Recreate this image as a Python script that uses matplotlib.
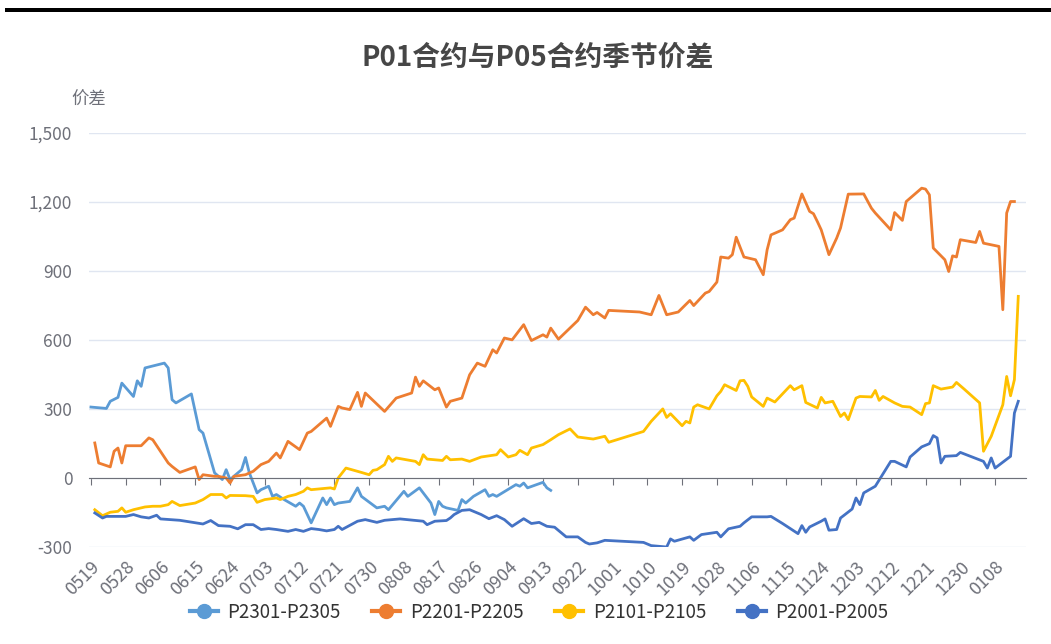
import matplotlib
matplotlib.use('Agg')
import matplotlib.pyplot as plt
import pandas as pd
from matplotlib.patches import Rectangle

plt.rcParams['font.family'] = ['Noto Sans CJK SC', 'DejaVu Sans']

# category axis: every calendar day, labels every 9th day
days = pd.date_range('2022-05-19', '2023-01-16', freq='D').strftime('%m%d').tolist()
tick_labels = days[::9]

# P2301-P2305
p2301_dates = ['0519', '0523', '0524', '0526', '0527', '0530', '0531', '0601', '0602', '0607',
               '0608', '0609', '0610', '0614', '0616', '0617', '0620', '0622', '0623', '0624',
               '0627', '0628', '0629', '0701', '0702', '0704', '0705', '0706', '0708', '0711',
               '0712', '0713', '0715', '0718', '0719', '0720', '0721', '0722', '0725', '0727',
               '0728', '0801', '0803', '0804', '0808', '0809', '0812', '0813', '0815', '0816',
               '0817', '0818', '0819', '0822', '0823', '0824', '0826', '0829', '0830', '0831',
               '0901', '0906', '0907', '0908', '0909', '0913', '0914', '0915']
p2301_vals = [308, 302, 333, 350, 412, 354, 422, 398, 478, 499,
              478, 340, 326, 365, 210, 195, 22, -7, 36, -7,
              36, 89, 22, -65, -51, -36, -80, -72, -94, -123,
              -109, -123, -195, -87, -116, -87, -116, -109, -102, -43,
              -80, -130, -123, -138, -58, -80, -43, -65, -109, -159,
              -102, -123, -130, -141, -94, -109, -80, -51, -80, -72,
              -80, -29, -36, -22, -43, -19, -43, -54]

# P2201-P2205
p2201_dates = ['0520', '0521', '0524', '0525', '0526', '0527', '0528', '0601', '0603', '0604',
               '0608', '0609', '0611', '0615', '0616', '0617', '0620', '0621', '0623', '0624',
               '0625', '0628', '0630', '0702', '0704', '0706', '0707', '0709', '0712', '0714',
               '0715', '0719', '0720', '0722', '0723', '0725', '0727', '0728', '0729', '0803',
               '0806', '0810', '0811', '0812', '0813', '0816', '0817', '0819', '0820', '0823',
               '0825', '0827', '0829', '0831', '0901', '0903', '0905', '0908', '0910', '0913',
               '0914', '0915', '0917', '0922', '0924', '0926', '0927', '0929', '0930', '1008',
               '1011', '1013', '1015', '1018', '1021', '1022', '1025', '1026', '1028', '1029',
               '1031', '1101', '1102', '1104', '1107', '1109', '1110', '1111', '1114', '1116',
               '1117', '1119', '1121', '1122', '1123', '1124', '1126', '1128', '1129', '1201',
               '1205', '1207', '1208', '1212', '1213', '1215', '1216', '1220', '1221', '1222',
               '1223', '1226', '1227', '1228', '1229', '1230', '0103', '0104', '0105', '0109',
               '0110', '0111', '0112', '0113']
p2201_vals = [152, 65, 48, 116, 130, 65, 140, 140, 174, 166,
              65, 50, 24, 48, -7, 14, 7, 7, 0, -22,
              7, 14, 29, 58, 72, 108, 87, 159, 123, 195,
              202, 260, 224, 311, 304, 297, 372, 311, 369, 289,
              347, 369, 438, 398, 422, 383, 391, 308, 333, 347,
              448, 499, 485, 557, 543, 608, 600, 666, 597, 622,
              612, 651, 603, 684, 742, 709, 719, 695, 728, 721,
              709, 793, 709, 721, 771, 749, 803, 810, 851, 960,
              955, 970, 1046, 960, 948, 883, 991, 1056, 1078, 1122,
              1129, 1234, 1158, 1148, 1114, 1078, 970, 1042, 1086, 1233,
              1234, 1172, 1151, 1078, 1153, 1119, 1201, 1259, 1255, 1230,
              999, 948, 897, 965, 960, 1035, 1023, 1071, 1020, 1006,
              731, 1151, 1201, 1201]

# P2101-P2105
p2101_dates = ['0520', '0522', '0524', '0526', '0527', '0528', '0530', '0602', '0604', '0606',
               '0608', '0609', '0611', '0615', '0617', '0619', '0622', '0623', '0624', '0628',
               '0630', '0701', '0703', '0706', '0707', '0709', '0711', '0713', '0714', '0715',
               '0720', '0721', '0722', '0724', '0728', '0730', '0731', '0801', '0803', '0804',
               '0805', '0806', '0811', '0812', '0813', '0814', '0818', '0819', '0820', '0823',
               '0825', '0828', '0901', '0902', '0904', '0906', '0907', '0909', '0910', '0913',
               '0915', '0917', '0920', '0922', '0926', '0929', '0930', '1009', '1011', '1014',
               '1015', '1016', '1019', '1020', '1021', '1022', '1023', '1026', '1028', '1029',
               '1030', '1102', '1103', '1104', '1105', '1106', '1109', '1110', '1112', '1116',
               '1117', '1119', '1120', '1123', '1124', '1125', '1127', '1129', '1130', '1201',
               '1203', '1204', '1207', '1208', '1209', '1210', '1213', '1215', '1217', '1220',
               '1221', '1222', '1223', '1225', '1228', '1229', '1231', '0104', '0105', '0107',
               '0110', '0111', '0112', '0113', '0114']
p2101_vals = [-138, -164, -149, -145, -130, -149, -138, -126, -123, -123,
              -116, -102, -120, -109, -94, -72, -72, -87, -76, -77,
              -80, -106, -94, -87, -94, -80, -72, -58, -43, -51,
              -43, -48, 0, 43, 24, 14, 33, 36, 58, 94,
              72, 87, 72, 58, 101, 82, 76, 94, 79, 82,
              72, 91, 101, 123, 91, 101, 120, 101, 130, 145,
              166, 188, 213, 178, 169, 181, 155, 202, 246, 300,
              263, 279, 227, 246, 239, 308, 318, 300, 357, 376,
              405, 380, 422, 424, 398, 352, 311, 347, 330, 401,
              383, 401, 328, 304, 350, 326, 333, 267, 282, 253,
              347, 354, 352, 380, 337, 354, 326, 311, 308, 275,
              323, 326, 401, 386, 395, 415, 386, 326, 116, 181,
              318, 441, 357, 427, 789]

# P2001-P2005
p2001_dates = ['0520', '0522', '0523', '0528', '0530', '0601', '0603', '0605', '0606', '0611',
               '0617', '0619', '0621', '0624', '0626', '0628', '0630', '0702', '0704', '0706',
               '0709', '0711', '0713', '0715', '0717', '0719', '0721', '0722', '0723', '0727',
               '0729', '0801', '0803', '0807', '0813', '0814', '0816', '0819', '0820', '0821',
               '0823', '0825', '0828', '0830', '0901', '0903', '0905', '0908', '0910', '0912',
               '0914', '0916', '0919', '0922', '0924', '0925', '0927', '0929', '1009', '1011',
               '1015', '1016', '1017', '1021', '1022', '1024', '1028', '1029', '1031', '1103',
               '1104', '1106', '1110', '1111', '1114', '1118', '1119', '1120', '1121', '1124',
               '1125', '1126', '1128', '1129', '1202', '1203', '1204', '1205', '1208', '1212',
               '1213', '1216', '1217', '1220', '1222', '1223', '1224', '1225', '1226', '1229',
               '1230', '0105', '0106', '0107', '0108', '0112', '0113', '0114']
p2001_vals = [-152, -174, -167, -167, -159, -169, -174, -162, -178, -184,
              -200, -185, -207, -210, -221, -203, -203, -224, -220, -224,
              -232, -224, -232, -220, -224, -230, -224, -210, -224, -188,
              -181, -193, -184, -178, -188, -203, -188, -185, -174, -159,
              -141, -138, -159, -177, -164, -181, -210, -177, -198, -193,
              -210, -214, -256, -256, -280, -287, -282, -271, -280, -294,
              -300, -265, -275, -256, -271, -246, -236, -256, -221, -210,
              -195, -169, -169, -167, -198, -242, -207, -236, -213, -188,
              -178, -227, -224, -174, -135, -87, -116, -65, -36, 72,
              72, 48, 91, 135, 149, 184, 174, 65, 94, 97,
              111, 72, 43, 87, 43, 94, 282, 333]

series = [
    ('P2301-P2305', p2301_dates, p2301_vals, '#5B9BD5'),
    ('P2201-P2205', p2201_dates, p2201_vals, '#ED7D31'),
    ('P2101-P2105', p2101_dates, p2101_vals, '#FFC000'),
    ('P2001-P2005', p2001_dates, p2001_vals, '#4472C4'),
]

W, H = 1051, 644
fig = plt.figure(figsize=(W / 100, H / 100), dpi=100)
ax = fig.add_axes([89 / W, 1 - 547 / H, (1026 - 89) / W, (547 - 132.7) / H])

pos = {d: i for i, d in enumerate(days)}
for name, dates, vals, color in series:
    xs = [pos[d] for d in dates]
    ax.plot(xs, vals, color=color, lw=2.0, label=name, solid_joinstyle='round')

ax.set_xlim(-0.5, len(days) - 1)
ax.set_ylim(-300, 1500)
ax.set_yticks(range(-300, 1501, 300))
ax.set_yticklabels([f'{v:,}' for v in range(-300, 1501, 300)])
ax.yaxis.grid(True, color='#E0E6F1', lw=1)
ax.set_axisbelow(True)
ax.tick_params(axis='y', length=0, pad=12, labelsize=12.5, labelcolor='#6E7079')

for s in ['left', 'right', 'top']:
    ax.spines[s].set_visible(False)
ax.spines['bottom'].set_position(('data', 0))
ax.spines['bottom'].set_color('#6E7079')
ax.set_xticks(range(0, len(days), 9))
ax.tick_params(axis='x', direction='out', length=5, color='#6E7079', labelbottom=False)

sec = ax.secondary_xaxis('bottom')
sec.set_xticks(range(0, len(days), 9), tick_labels)
sec.spines['bottom'].set_visible(False)
sec.tick_params(length=0, pad=8, labelsize=13, labelcolor='#6E7079')
for lab in sec.get_xticklabels():
    lab.set_rotation(45)
    lab.set_ha('right')
    lab.set_rotation_mode('anchor')

fig.text(89 / W, 1 - 100 / H, '价差', ha='center', va='center', fontsize=12.5, color='#6E7079')
fig.text(538 / W, 1 - 58 / H, 'P01合约与P05合约季节价差', ha='center', va='center',
         fontsize=20, fontweight='bold', color='#464646')

fig.add_artist(Rectangle((5 / W, 1 - 12 / H), 1, 3.5 / H, transform=fig.transFigure,
                         color='black', lw=0))

leg_handles = [plt.Line2D([], [], color=c, lw=3, marker='o', markersize=10)
               for _, _, _, c in series]
fig.legend(leg_handles, [s[0] for s in series], loc='center', bbox_to_anchor=(0.513, 1 - 612 / H),
           ncol=4, frameon=False, fontsize=13.5, handlelength=1.5, handletextpad=0.5,
           columnspacing=1.7, labelcolor='#333333')

fig.savefig('out.png', dpi=100)
